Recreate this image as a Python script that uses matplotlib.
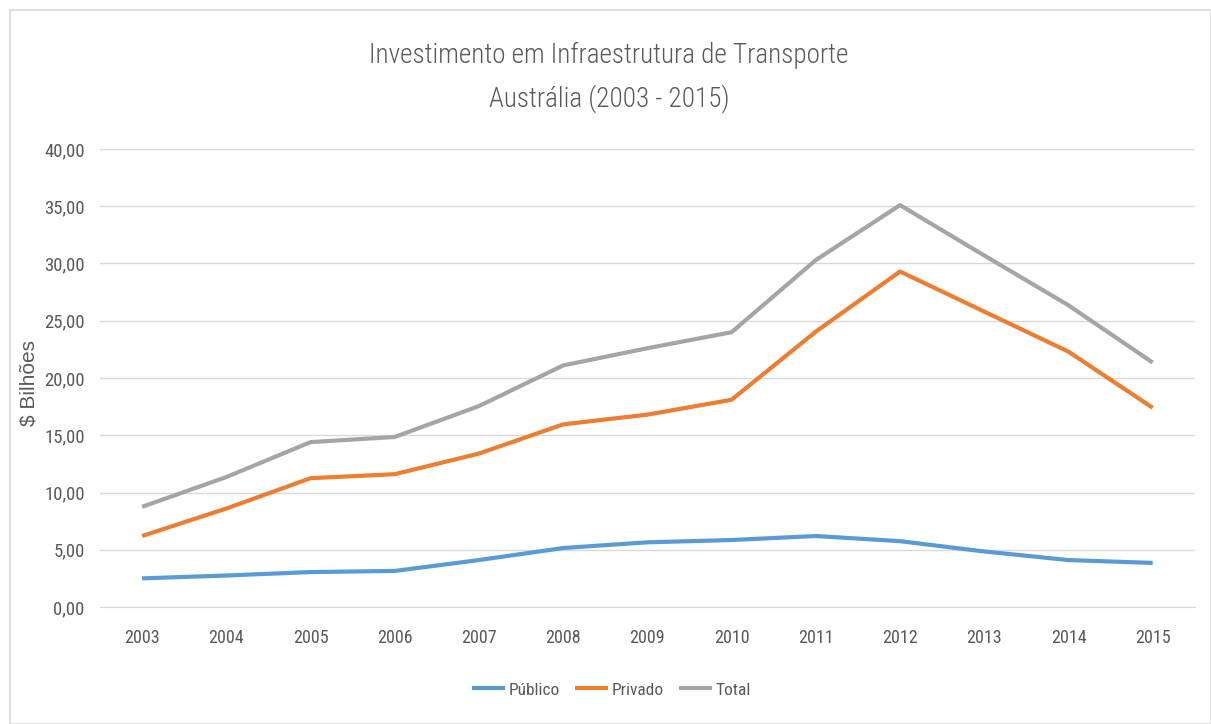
import matplotlib
matplotlib.use("Agg")
import matplotlib.pyplot as plt
from matplotlib.patches import Rectangle
from matplotlib.ticker import FuncFormatter

# Investimento em infraestrutura de transporte, Austrália (US$ bilhões)
years = [2003, 2004, 2005, 2006, 2007, 2008, 2009, 2010, 2011, 2012, 2013, 2014, 2015]
publico = [2.50, 2.75, 3.05, 3.15, 4.10, 5.15, 5.65, 5.85, 6.20, 5.75, 4.85, 4.10, 3.85]
privado = [6.20, 8.60, 11.25, 11.60, 13.40, 15.95, 16.80, 18.10, 24.05, 29.30, 25.80, 22.30, 17.40]
total = [8.75, 11.35, 14.40, 14.85, 17.55, 21.10, 22.60, 24.00, 30.30, 35.10, 30.70, 26.35, 21.35]

series_names = ["Público", "Privado", "Total"]
colors = ["#5B9BD5", "#ED7D31", "#A5A5A5"]

narrow = ["Roboto Condensed", "DejaVu Sans"]
text_grey = "#595959"

fig = plt.figure(figsize=(12.11, 7.24), dpi=100)
fig.patches.append(Rectangle((0.008, 0.0), 0.992, 0.986, transform=fig.transFigure,
                             fill=False, edgecolor="#d9d9d9", linewidth=1.2))

ax = fig.add_axes([0.0826, 0.1616, 0.904, 0.6326])

for vals, name, c in zip([publico, privado, total], series_names, colors):
    ax.plot(years, vals, color=c, linewidth=3.0, label=name, solid_capstyle="butt")

ax.set_xlim(2002.5, 2015.5)
ax.set_ylim(0, 40)
ax.set_yticks(range(0, 41, 5))
ax.set_xticks(years)
ax.yaxis.set_major_formatter(FuncFormatter(lambda v, p: f"{v:.2f}".replace(".", ",")))
ax.grid(axis="y", color="#d9d9d9", linewidth=1.0)
ax.set_axisbelow(True)
for s in ["top", "right", "left"]:
    ax.spines[s].set_visible(False)
ax.spines["bottom"].set_color("#d9d9d9")
ax.tick_params(length=0, colors=text_grey, labelsize=13.5, pad=11)
ax.tick_params(axis="x", pad=16, labelsize=13)
for lbl in ax.get_xticklabels() + ax.get_yticklabels():
    lbl.set_family(narrow)

ax.set_ylabel("$ Bilhões", fontsize=15, color=text_grey, family=["Liberation Sans", "DejaVu Sans"])
ax.yaxis.set_label_coords(-0.056, 0.49)

fig.text(0.503, 0.924, "Investimento em Infraestrutura de Transporte", ha="center", va="center",
         fontsize=19.5, color=text_grey, family=narrow, fontweight="light")
fig.text(0.503, 0.864, "Austrália (2003 - 2015)", ha="center", va="center",
         fontsize=19.5, color=text_grey, family=narrow, fontweight="light")

leg = fig.legend(loc="center", bbox_to_anchor=(0.505, 0.047), ncol=3, frameon=False,
                 handlelength=1.9, handletextpad=0.2, columnspacing=0.9,
                 prop={"family": narrow, "size": 12.5})
for t in leg.get_texts():
    t.set_color(text_grey)

fig.savefig("out.png", dpi=100)
